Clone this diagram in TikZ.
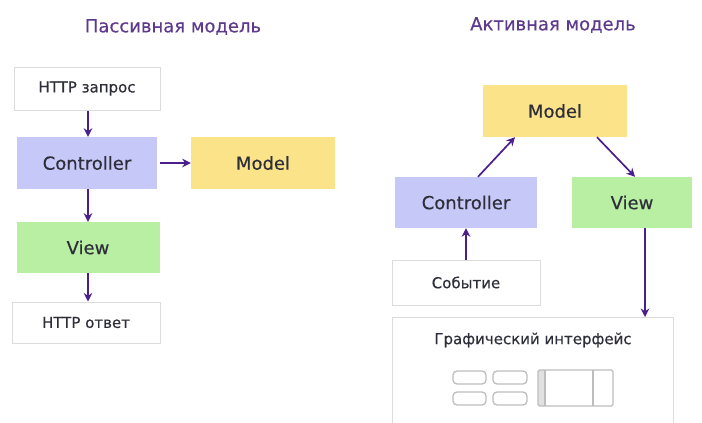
\documentclass[tikz,border=0pt]{standalone}
\usepackage{fontspec}
\setmainfont[FakeBold=0.4]{DejaVu Sans}
\usetikzlibrary{arrows.meta}
\definecolor{ttl}{HTML}{5E3A8E}
\definecolor{arrc}{HTML}{4A1F8C}
\definecolor{ctrlc}{HTML}{C6C8F7}
\definecolor{modc}{HTML}{FBE38A}
\definecolor{viewc}{HTML}{B8EFA2}
\definecolor{bord}{HTML}{DCDCDC}
\definecolor{txt}{HTML}{2E2E3A}
\definecolor{icon}{HTML}{BDBDBD}
\begin{document}
\begin{tikzpicture}[x=1pt,y=-1pt,
  box/.style={draw=none,inner sep=0pt,text=txt,font=\fontsize{18}{20}\selectfont},
  whitebox/.style={draw=bord,line width=1pt,fill=white,inner sep=0pt,text=txt,font=\fontsize{15}{17}\selectfont},
  arr/.style={draw=arrc,line width=1.7pt,-{Stealth[length=8.5pt,width=8.5pt]}},
  title/.style={text=ttl,font=\fontsize{18}{20}\selectfont},
  ic/.style={draw=icon,line width=1.3pt}]
\useasboundingbox (0,0) rectangle (702,423);
\clip (0,0) rectangle (702,423);
\fill[white] (0,0) rectangle (702,423);
% titles
\node[title] (t1) at (173,27) {Пассивная модель};
\node[title] (t2) at (553,25) {Активная модель};
% left
\node[whitebox,minimum width=146,minimum height=43] (req) at (87,88.5) {HTTP запрос};
\node[box,fill=ctrlc,minimum width=140,minimum height=52] (ctrlL) at (87,163) {Controller};
\node[box,fill=modc,minimum width=144,minimum height=52] (modL) at (263,163) {Model};
\node[box,fill=viewc,minimum width=143,minimum height=51] (viewL) at (88,247.5) {View};
\node[whitebox,minimum width=148,minimum height=41] (resp) at (86,322.5) {HTTP ответ};
\coordinate (lx) at (88,0);
\draw[arr] (req.south -| lx) -- (ctrlL.north -| lx);
\draw[arr] (ctrlL.east) ++(3,0) -- (modL.west);
\draw[arr] (ctrlL.south -| lx) -- (viewL.north -| lx);
\draw[arr] (viewL.south -| lx) -- (resp.north -| lx);
% right
\node[box,fill=modc,minimum width=144,minimum height=52] (modR) at (555,111) {Model};
\node[box,fill=ctrlc,minimum width=142,minimum height=51] (ctrlR) at (466,202.5) {Controller};
\node[box,fill=viewc,minimum width=120,minimum height=51] (viewR) at (632,202.5) {View};
\node[whitebox,minimum width=148,minimum height=45] (evt) at (466,282.5) {Событие};
\node[whitebox,minimum width=281,minimum height=130,anchor=north] (gui) at (532.5,317) {};
\node[text=txt,font=\fontsize{15}{17}\selectfont] (guit) at (533,340) {Графический интерфейс};
\coordinate (c1) at (478,0);
\coordinate (c2) at (515,0);
\coordinate (c3) at (597,0);
\coordinate (c4) at (635,0);
\coordinate (c5) at (645,0);
\draw[arr] (ctrlR.north -| c1) -- (modR.south -| c2);
\draw[arr] (modR.south -| c3) -- (viewR.north -| c4);
\draw[arr] (evt) -- (ctrlR);
\draw[arr] (viewR.south -| c5) -- (gui.north -| c5);
% gui icons
\draw[ic,rounded corners=4pt] (453,371) rectangle (486,384);
\draw[ic,rounded corners=4pt] (493,371) rectangle (527,384);
\draw[ic,rounded corners=4pt] (453,392) rectangle (486,405);
\draw[ic,rounded corners=4pt] (493,392) rectangle (527,405);
\fill[icon!45] (538,370) rectangle (545,406);
\draw[ic,rounded corners=1.5pt] (538,370) rectangle (613,406);
\draw[ic] (545,370) -- (545,406);
\draw[ic] (593,370) -- (593,406);
\end{tikzpicture}
\end{document}
